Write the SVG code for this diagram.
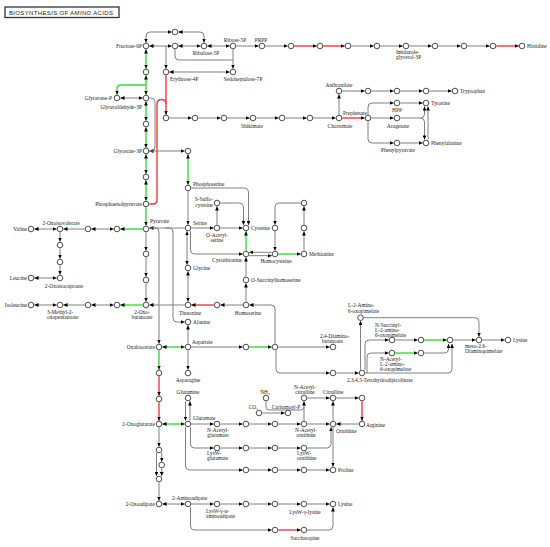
<svg xmlns="http://www.w3.org/2000/svg" width="550" height="547" viewBox="0 0 550 547">
<style>
.g{stroke:#808080;stroke-width:1;fill:none}
.gr{stroke:#33e033;stroke-width:1.4;fill:none}
.rd{stroke:#f03a3a;stroke-width:1.4;fill:none}
.e{marker-end:url(#ah)}
.s{marker-start:url(#ah)}
.b{marker-start:url(#ah);marker-end:url(#ah)}
circle{fill:#fff;stroke:#222;stroke-width:0.8}
text{font-family:"Liberation Serif","Times New Roman",serif;font-size:5.4px;fill:#222}
.m{text-anchor:middle}
.r{text-anchor:end}
</style>
<defs>
<marker id="ah" viewBox="0 0 10 9" refX="10" refY="4.5" markerWidth="4.2" markerHeight="3.8" orient="auto-start-reverse" markerUnits="userSpaceOnUse"><path d="M0,0L10,4.5L0,9z" fill="#000"/></marker>
</defs>
<rect width="550" height="547" fill="#fff"/>
<g id="title"><rect x="5" y="7" width="114" height="10.5" fill="#fff" stroke="#333" stroke-width="1.3"/><text x="9" y="14.8" style="font-family:'Liberation Sans',Arial,sans-serif;font-size:6px" textLength="104" lengthAdjust="spacing">BIOSYNTHESIS OF AMINO ACIDS</text></g>
<g id="connectors">
<path class="g b" d="M149.3,46H171.7"/>
<path class="g b" d="M178.3,46H200.7"/>
<path class="g b" d="M146,42.7V36Q146,32 150,32H171.7"/>
<path class="g b" d="M178.3,32H200Q204,32 204,36V42.7"/>
<path class="g b" d="M207.3,46H229.7"/>
<path class="g e" d="M236.3,46H258.7"/>
<path class="g e" d="M265.3,46H287.7"/>
<path class="rd e" d="M294.3,46H316.7"/>
<path class="rd e" d="M323.3,46H344.7"/>
<path class="g e" d="M351.3,46H373.7"/>
<path class="g e" d="M380.3,46H402.7"/>
<path class="g e" d="M409.3,46H431.7"/>
<path class="g e" d="M438.3,46H460.7"/>
<path class="g e" d="M467.3,46H489.7"/>
<path class="rd e" d="M496.3,46H518.7"/>
<path class="g e" d="M166,46V68.7"/>
<path class="g b" d="M169.3,72H229.7"/>
<path class="g e" d="M233,49.3V68.7"/>
<path class="g" d="M175,49.3V56Q175,60 179,60H233"/>
<path class="gr b" d="M146,49.3V68.7"/>
<path class="gr b" d="M146,75.3V94.7"/>
<path class="gr e" d="M146,85H121Q117,85 117,89V94.7"/>
<path class="g b" d="M120.3,98H142.7"/>
<path class="gr b" d="M146,101.3V120.7"/>
<path class="gr b" d="M146,127.3V147.7"/>
<path class="g e" d="M149.3,98H151Q155,98 155,102V147Q155,151 151,151H149.3"/>
<path class="g e" d="M149.3,151H184.7"/>
<path class="gr b" d="M188,154.3V184.7"/>
<path class="gr b" d="M146,154.3V173.7"/>
<path class="gr b" d="M146,180.3V200.7"/>
<path class="gr e" d="M146,207.3V225.7"/>
<path class="rd e" d="M166,75.3V114.7"/>
<path class="rd" d="M149.3,204H153Q157,204 157,200V104Q157,99.5 161.5,99.5Q166,99.5 166,104"/>
<path class="g e" d="M169.3,118H191.7"/>
<path class="g e" d="M198.3,118H220.7"/>
<path class="g e" d="M227.3,118H249.7"/>
<path class="g e" d="M256.3,118H278.7"/>
<path class="g e" d="M285.3,118H306.7"/>
<path class="g e" d="M313.3,118H335.7"/>
<path class="g e" d="M339,114.7V94.3"/>
<path class="g e" d="M342.3,91H364.7"/>
<path class="g e" d="M371.3,91H393.7"/>
<path class="g e" d="M400.3,91H422.7"/>
<path class="g e" d="M429.3,91H451.7"/>
<path class="rd e" d="M342.3,118H364.7"/>
<path class="g e" d="M371.3,118H393.7"/>
<path class="g e" d="M368,114.7V107Q368,103 372,103H393.7"/>
<path class="g e" d="M400.3,103H422.7"/>
<path class="g e" d="M368,121.3V139Q368,143 372,143H393.7"/>
<path class="g e" d="M400.3,143H422.7"/>
<path class="g e" d="M400.3,118H420.5Q424.5,118 424.5,114V106.4"/>
<path class="g e" d="M420.5,118Q424.5,118 424.5,122V139.6"/>
<path class="g e" d="M428,139.6V106.4"/>
<path class="g s" d="M149.3,228H184.7"/>
<path class="g e" d="M151,228H155Q159,228 159,232V343.7"/>
<path class="g e" d="M165,228H169Q173,228 173,232V318Q173,322 177,322H184.7"/>
<path class="gr e" d="M142.7,229H120.3"/>
<path class="g b" d="M91.3,229H113.7"/>
<path class="g e" d="M84.7,229H63.3"/>
<path class="g b" d="M56.7,229H34.3"/>
<path class="g e" d="M60,232.3V241.7"/>
<path class="g e" d="M60,248.3V258.7"/>
<path class="g e" d="M60,265.3V274.7"/>
<path class="g b" d="M56.7,278H34.3"/>
<path class="g b" d="M56.7,305H34.3"/>
<path class="g e" d="M84.7,305H63.3"/>
<path class="g b" d="M91.3,305H113.7"/>
<path class="gr e" d="M142.7,305H120.3"/>
<path class="g e" d="M146,232.3V250.7"/>
<path class="g e" d="M146,257.3V276.7"/>
<path class="g e" d="M146,283.3V301.7"/>
<path class="g e" d="M184.7,305H149.3"/>
<path class="g e" d="M188,191.3V224.7"/>
<path class="g e" d="M191.3,228H213.7"/>
<path class="g e" d="M220.3,228H242.7"/>
<path class="g e" d="M217,224.7V206.3"/>
<path class="g e" d="M220.3,203H239.5Q243.5,203 243.5,207V225"/>
<path class="g e" d="M191.3,188H244.5Q248.5,188 248.5,192V225"/>
<path class="gr e" d="M246,250.7V231.3"/>
<path class="g e" d="M190.5,231V250Q190.5,254 194.5,254H242.7"/>
<path class="g s" d="M249.2,252.3H271.8"/>
<path class="g e" d="M249.2,255.7H271.8"/>
<path class="gr e" d="M278.3,254H300.7"/>
<path class="g e" d="M304,250.7V231.3"/>
<path class="g e" d="M304,224.7V206.3"/>
<path class="g e" d="M300.7,203H279Q275,203 275,207V224.7"/>
<path class="g e" d="M275,231.3V250.7"/>
<path class="g e" d="M246,276.7V257.3"/>
<path class="g b" d="M187,231.2V264.8"/>
<path class="g b" d="M188,271.3V301.7"/>
<path class="g e" d="M242.7,305H220.3"/>
<path class="rd e" d="M213.7,305H191.3"/>
<path class="g e" d="M246,301.7V283.3"/>
<path class="g e" d="M275,343.7V309Q275,305 271,305H249.3"/>
<path class="gr b" d="M162.3,347H184.7"/>
<path class="g e" d="M188,343.7V325.3"/>
<path class="g e" d="M191.3,347H242.7"/>
<path class="gr e" d="M249.3,347H271.7"/>
<path class="g e" d="M188,350.3V369.7"/>
<path class="g e" d="M278.3,347H329.7"/>
<path class="g e" d="M276,350.3V369Q276,373 280,373H329.7"/>
<path class="g e" d="M336.3,373H358.7"/>
<path class="g e" d="M360.5,369.7V321"/>
<path class="g e" d="M365,370V344Q365,340 369,340H388.7"/>
<path class="g e" d="M365.3,373H448Q452,373 452,369V343.8"/>
<path class="g e" d="M367,373V357Q367,353 371,353H388.7"/>
<path class="g e" d="M395.3,340H417.7"/>
<path class="gr e" d="M424.3,340H446.7"/>
<path class="g e" d="M453.3,340H475.7"/>
<path class="g e" d="M482.3,340H504.7"/>
<path class="gr e" d="M395.3,353H417.7"/>
<path class="g e" d="M424.3,353H444.5Q448.5,353 448.5,349V343.8"/>
<path class="g e" d="M363.3,317.7H475Q479,317.7 479,321.7V336.7"/>
<path class="gr e" d="M159,350.3V369.7"/>
<path class="rd e" d="M159,376.3V395.7"/>
<path class="rd e" d="M159,402.3V420.7"/>
<path class="gr b" d="M162.3,424H184.7"/>
<path class="g e" d="M185.5,401.3V420.7"/>
<path class="g e" d="M190,420.7V401.3"/>
<path class="g e" d="M191.3,424H213.7"/>
<path class="g e" d="M220.3,424H242.7"/>
<path class="g e" d="M249.3,424H271.7"/>
<path class="g e" d="M278.3,424H300.7"/>
<path class="g e" d="M307.3,424H329.7"/>
<path class="g e" d="M358.7,424H336.3"/>
<path class="g e" d="M333,420.7V401.3"/>
<path class="g e" d="M304,420.7V401.3"/>
<path class="g e" d="M307.3,398H329.7"/>
<path class="g e" d="M336.3,398H358.7"/>
<path class="rd e" d="M362,401.3V420.7"/>
<path class="g" d="M266,401.3V407Q266,410 269,410H301Q304,410 304,407"/>
<path class="g e" d="M262.3,413H284.7"/>
<path class="g e" d="M190.5,427.3V444Q190.5,448 194.5,448H213.7"/>
<path class="g e" d="M220.3,448H242.7"/>
<path class="g e" d="M249.3,448H271.7"/>
<path class="g e" d="M278.3,448H300.7"/>
<path class="g e" d="M307.3,448H327Q331,448 331,444V427.2"/>
<path class="g e" d="M185.5,427.3V466Q185.5,470 189.5,470H242.7"/>
<path class="g e" d="M249.3,470H271.7"/>
<path class="g e" d="M278.3,470H300.7"/>
<path class="g e" d="M307.3,470H329.7"/>
<path class="g e" d="M333,427.3V466.7"/>
<path class="g e" d="M159,427.3V446.7"/>
<path class="g e" d="M161.7,453V461.7"/>
<path class="g e" d="M156.5,452.8V476"/>
<path class="g e" d="M161.7,468.3V476"/>
<path class="g e" d="M159,482.3V500.7"/>
<path class="g b" d="M162.3,504H184.7"/>
<path class="g e" d="M191.3,504H213.7"/>
<path class="g e" d="M220.3,504H242.7"/>
<path class="g e" d="M249.3,504H271.7"/>
<path class="g e" d="M278.3,504H300.7"/>
<path class="g e" d="M307.3,504H329.7"/>
<path class="g e" d="M190.5,507.3V526Q190.5,530 194.5,530H271.7"/>
<path class="rd e" d="M278.3,530H300.7"/>
<path class="g e" d="M307.3,530H329Q333,530 333,526V507.3"/>
</g>
<g id="nodes">
<g id="n-fructose6p"><circle cx="146" cy="46" r="2.8"/><text class="r" x="142" y="48">Fructose-6P</text></g>
<g id="n-c175-46"><circle cx="175" cy="46" r="2.8"/></g>
<g id="n-c175-32"><circle cx="175" cy="32" r="2.8"/></g>
<g id="n-ribulose5p"><circle cx="204" cy="46" r="2.8"/><text class="m" x="206" y="55">Ribulose-5P</text></g>
<g id="n-ribose5p"><circle cx="233" cy="46" r="2.8"/><text class="m" x="235" y="42">Ribose-5P</text></g>
<g id="n-prpp"><circle cx="262" cy="46" r="2.8"/><text class="m" x="261" y="42">PRPP</text></g>
<g id="n-c291"><circle cx="291" cy="46" r="2.8"/></g>
<g id="n-c320"><circle cx="320" cy="46" r="2.8"/></g>
<g id="n-c348"><circle cx="348" cy="46" r="2.8"/></g>
<g id="n-c377"><circle cx="377" cy="46" r="2.8"/></g>
<g id="n-imidazole"><circle cx="406" cy="46" r="2.8"/><text x="396" y="54">Imidazole-<tspan x="396" y="59">glycerol-3P</tspan></text></g>
<g id="n-c435"><circle cx="435" cy="46" r="2.8"/></g>
<g id="n-c464"><circle cx="464" cy="46" r="2.8"/></g>
<g id="n-c493"><circle cx="493" cy="46" r="2.8"/></g>
<g id="n-histidine"><circle cx="522" cy="46" r="2.8"/><text x="527" y="48">Histidine</text></g>
<g id="n-sedoheptulose7p"><circle cx="233" cy="72" r="2.8"/><text class="m" x="243" y="81">Sedoheptulose-7P</text></g>
<g id="n-erythrose4p"><circle cx="166" cy="72" r="2.8"/><text x="170" y="81">Erythrose-4P</text></g>
<g id="n-c146-72"><circle cx="146" cy="72" r="2.8"/></g>
<g id="n-glyceroneP"><circle cx="117" cy="98" r="2.8"/><text class="r" x="112" y="100">Glycerone-P</text></g>
<g id="n-glyceraldehyde3p"><circle cx="146" cy="98" r="2.8"/><text class="r" x="142" y="109">Glyceraldehyde-3P</text></g>
<g id="n-c166-118"><circle cx="166" cy="118" r="2.8"/></g>
<g id="n-c195-118"><circle cx="195" cy="118" r="2.8"/></g>
<g id="n-c224-118"><circle cx="224" cy="118" r="2.8"/></g>
<g id="n-shikimate"><circle cx="253" cy="118" r="2.8"/><text class="m" x="252" y="128">Shikimate</text></g>
<g id="n-c282-118"><circle cx="282" cy="118" r="2.8"/></g>
<g id="n-c310-118"><circle cx="310" cy="118" r="2.8"/></g>
<g id="n-chorismate"><circle cx="339" cy="118" r="2.8"/><text class="m" x="340" y="128">Chorismate</text></g>
<g id="n-anthranilate"><circle cx="339" cy="91" r="2.8"/><text class="m" x="339" y="87">Anthranilate</text></g>
<g id="n-c368-91"><circle cx="368" cy="91" r="2.8"/></g>
<g id="n-c397-91"><circle cx="397" cy="91" r="2.8"/></g>
<g id="n-c426-91"><circle cx="426" cy="91" r="2.8"/></g>
<g id="n-tryptophan"><circle cx="455" cy="91" r="2.8"/><text x="460" y="93">Tryptophan</text></g>
<g id="n-prephenate"><circle cx="368" cy="118" r="2.8"/><text class="m" x="355" y="115">Prephenate</text></g>
<g id="n-hpp"><circle cx="397" cy="103" r="2.8"/><text class="m" x="397" y="112">HPP</text></g>
<g id="n-tyrosine"><circle cx="426" cy="103" r="2.8"/><text x="431" y="105">Tyrosine</text></g>
<g id="n-arogenate"><circle cx="397" cy="118" r="2.8"/><text class="m" x="398" y="128">Arogenate</text></g>
<g id="n-phenylpyruvate"><circle cx="397" cy="143" r="2.8"/><text class="m" x="398" y="152">Phenylpyruvate</text></g>
<g id="n-phenylalanine"><circle cx="426" cy="143" r="2.8"/><text x="431" y="145">Phenylalanine</text></g>
<g id="n-c146-124"><circle cx="146" cy="124" r="2.8"/></g>
<g id="n-glycerate3p"><circle cx="146" cy="151" r="2.8"/><text class="r" x="142" y="153">Glycerate-3P</text></g>
<g id="n-c188-151"><circle cx="188" cy="151" r="2.8"/></g>
<g id="n-c146-177"><circle cx="146" cy="177" r="2.8"/></g>
<g id="n-pep"><circle cx="146" cy="204" r="2.8"/><text class="r" x="142" y="206">Phosphoenolpyruvate</text></g>
<g id="n-pyruvate"><circle cx="146" cy="229" r="2.8"/><text x="150" y="223">Pyruvate</text></g>
<g id="n-c117-229"><circle cx="117" cy="229" r="2.8"/></g>
<g id="n-c88-229"><circle cx="88" cy="229" r="2.8"/></g>
<g id="n-oxoisovalerate"><circle cx="60" cy="229" r="2.8"/><text class="m" x="61" y="225">2-Oxoisovalerate</text></g>
<g id="n-valine"><circle cx="31" cy="229" r="2.8"/><text class="r" x="27" y="231">Valine</text></g>
<g id="n-c60-245"><circle cx="60" cy="245" r="2.8"/></g>
<g id="n-c60-262"><circle cx="60" cy="262" r="2.8"/></g>
<g id="n-oxoisocaproate"><circle cx="60" cy="278" r="2.8"/><text class="m" x="64" y="288">2-Oxoisocaproate</text></g>
<g id="n-leucine"><circle cx="31" cy="278" r="2.8"/><text class="r" x="27" y="280">Leucine</text></g>
<g id="n-isoleucine"><circle cx="31" cy="305" r="2.8"/><text class="r" x="27" y="307">Isoleucine</text></g>
<g id="n-methyloxopentanoate"><circle cx="60" cy="305" r="2.8"/><text x="47" y="314">3-Methyl-2-<tspan x="47" y="319">oxopentanoate</tspan></text></g>
<g id="n-c88-305"><circle cx="88" cy="305" r="2.8"/></g>
<g id="n-c117-305"><circle cx="117" cy="305" r="2.8"/></g>
<g id="n-oxobutanoate"><circle cx="146" cy="305" r="2.8"/><text class="m" x="142" y="314">2-Oxo-<tspan x="142" y="319">butanoate</tspan></text></g>
<g id="n-c146-254"><circle cx="146" cy="254" r="2.8"/></g>
<g id="n-c146-280"><circle cx="146" cy="280" r="2.8"/></g>
<g id="n-oxaloacetate"><circle cx="159" cy="347" r="2.8"/><text class="r" x="155" y="349">Oxaloacetate</text></g>
<g id="n-phosphoserine"><circle cx="188" cy="188" r="2.8"/><text x="193" y="186">Phosphoserine</text></g>
<g id="n-serine"><circle cx="188" cy="228" r="2.8"/><text x="193" y="225">Serine</text></g>
<g id="n-oacetylserine"><circle cx="217" cy="228" r="2.8"/><text class="m" x="217" y="237">O-Acetyl-<tspan x="217" y="242">serine</tspan></text></g>
<g id="n-ssulfocysteine"><circle cx="217" cy="203" r="2.8"/><text class="r" x="213" y="201">S-Sulfo-<tspan x="213" y="207">cysteine</tspan></text></g>
<g id="n-cysteine"><circle cx="246" cy="228" r="2.8"/><text x="251" y="230">Cysteine</text></g>
<g id="n-cystathionine"><circle cx="246" cy="254" r="2.8"/><text class="r" x="242" y="262">Cystathionine</text></g>
<g id="n-homocysteine"><circle cx="275" cy="254" r="2.8"/><text class="m" x="276" y="263">Homocysteine</text></g>
<g id="n-methionine"><circle cx="304" cy="254" r="2.8"/><text x="309" y="256">Methionine</text></g>
<g id="n-c275-228"><circle cx="275" cy="228" r="2.8"/></g>
<g id="n-c304-203"><circle cx="304" cy="203" r="2.8"/></g>
<g id="n-c304-228"><circle cx="304" cy="228" r="2.8"/></g>
<g id="n-glycine"><circle cx="188" cy="268" r="2.8"/><text x="193" y="270">Glycine</text></g>
<g id="n-osuccinylhomoserine"><circle cx="246" cy="280" r="2.8"/><text x="251" y="282">O-Succinylhomoserine</text></g>
<g id="n-threonine"><circle cx="188" cy="305" r="2.8"/><text class="m" x="190" y="315">Threonine</text></g>
<g id="n-c217-305"><circle cx="217" cy="305" r="2.8"/></g>
<g id="n-homoserine"><circle cx="246" cy="305" r="2.8"/><text class="m" x="248" y="315">Homoserine</text></g>
<g id="n-alanine"><circle cx="188" cy="322" r="2.8"/><text x="193" y="324">Alanine</text></g>
<g id="n-aspartate"><circle cx="188" cy="347" r="2.8"/><text x="192" y="344">Aspartate</text></g>
<g id="n-c246-347"><circle cx="246" cy="347" r="2.8"/></g>
<g id="n-c275-347"><circle cx="275" cy="347" r="2.8"/></g>
<g id="n-asparagine"><circle cx="188" cy="373" r="2.8"/><text class="m" x="188" y="382">Asparagine</text></g>
<g id="n-diaminobutanoate"><circle cx="333" cy="347" r="2.8"/><text x="320" y="338">2,4-Diamino-<tspan x="322" y="343">butanoate</tspan></text></g>
<g id="n-c333-373"><circle cx="333" cy="373" r="2.8"/></g>
<g id="n-thdp"><circle cx="362" cy="373" r="2.8"/><text x="347" y="382">2,3,4,5-Tetrahydrodipicolinate</text></g>
<g id="n-aminooxopimelate"><circle cx="360.5" cy="317.7" r="2.8"/><text x="348" y="307">L-2-Amino-<tspan x="348" y="313">6-oxopimelate</tspan></text></g>
<g id="n-nsuccinyl"><circle cx="392" cy="340" r="2.8"/><text x="375" y="327">N-Succinyl-<tspan x="375" y="332">L-2-amino-</tspan><tspan x="375" y="337">6-oxopimelate</tspan></text></g>
<g id="n-c421-340"><circle cx="421" cy="340" r="2.8"/></g>
<g id="n-c450-340"><circle cx="450" cy="340" r="2.8"/></g>
<g id="n-mesodap"><circle cx="479" cy="340" r="2.8"/><text x="465" y="348">meso-2,6-<tspan x="465" y="353">Diaminopimelate</tspan></text></g>
<g id="n-lysine1"><circle cx="508" cy="340" r="2.8"/><text x="513" y="342">Lysine</text></g>
<g id="n-nacetyl"><circle cx="392" cy="353" r="2.8"/><text x="380" y="361">N-Acetyl-<tspan x="380" y="366">L-2-amino-</tspan><tspan x="380" y="371">6-oxopimelate</tspan></text></g>
<g id="n-c421-353"><circle cx="421" cy="353" r="2.8"/></g>
<g id="n-c159-373"><circle cx="159" cy="373" r="2.8"/></g>
<g id="n-c159-399"><circle cx="159" cy="399" r="2.8"/></g>
<g id="n-oxoglutarate"><circle cx="159" cy="424" r="2.8"/><text class="r" x="155" y="426">2-Oxoglutarate</text></g>
<g id="n-glutamine"><circle cx="188" cy="398" r="2.8"/><text class="m" x="188" y="394">Glutamine</text></g>
<g id="n-glutamate"><circle cx="188" cy="424" r="2.8"/><text x="193" y="420">Glutamate</text></g>
<g id="n-nacetylglutamate"><circle cx="217" cy="424" r="2.8"/><text class="m" x="218" y="432">N-Acetyl-<tspan x="218" y="437">glutamate</tspan></text></g>
<g id="n-c246-424"><circle cx="246" cy="424" r="2.8"/></g>
<g id="n-c275-424"><circle cx="275" cy="424" r="2.8"/></g>
<g id="n-nacetylornithine"><circle cx="304" cy="424" r="2.8"/><text class="m" x="306" y="432">N-Acetyl-<tspan x="306" y="437">ornithine</tspan></text></g>
<g id="n-ornithine"><circle cx="333" cy="424" r="2.8"/><text x="336" y="433">Ornithine</text></g>
<g id="n-arginine"><circle cx="362" cy="424" r="2.8"/><text x="366" y="427">Arginine</text></g>
<g id="n-nh3"><circle cx="266" cy="398" r="2.8"/><text class="m" x="265" y="394">NH₃</text></g>
<g id="n-co2"><circle cx="259" cy="413" r="2.8"/><text class="r" x="258" y="409">CO₂</text></g>
<g id="n-carbamoylp"><circle cx="288" cy="413" r="2.8"/><text class="m" x="286" y="408.5">Carbamoyl-P</text></g>
<g id="n-nacetylcitrulline"><circle cx="304" cy="398" r="2.8"/><text class="m" x="305" y="389">N-Acetyl-<tspan x="305" y="394">citrulline</tspan></text></g>
<g id="n-citrulline"><circle cx="333" cy="398" r="2.8"/><text class="m" x="333" y="394">Citrulline</text></g>
<g id="n-c362-398"><circle cx="362" cy="398" r="2.8"/></g>
<g id="n-lyswglutamate"><circle cx="217" cy="448" r="2.8"/><text x="207" y="455">LysW-<tspan x="207" y="460">glutamate</tspan></text></g>
<g id="n-c246-448"><circle cx="246" cy="448" r="2.8"/></g>
<g id="n-c275-448"><circle cx="275" cy="448" r="2.8"/></g>
<g id="n-lyswornithine"><circle cx="304" cy="448" r="2.8"/><text x="297" y="455">LysW-<tspan x="297" y="460">ornithine</tspan></text></g>
<g id="n-c246-470"><circle cx="246" cy="470" r="2.8"/></g>
<g id="n-c275-470"><circle cx="275" cy="470" r="2.8"/></g>
<g id="n-c304-470"><circle cx="304" cy="470" r="2.8"/></g>
<g id="n-proline"><circle cx="333" cy="470" r="2.8"/><text x="338" y="472">Proline</text></g>
<g id="n-c159-450"><circle cx="159" cy="450" r="2.8"/></g>
<g id="n-c162-465"><circle cx="161.7" cy="465" r="2.8"/></g>
<g id="n-c159-479"><circle cx="159" cy="479" r="2.8"/></g>
<g id="n-oxoadipate"><circle cx="159" cy="504" r="2.8"/><text class="r" x="155" y="506">2-Oxoadipate</text></g>
<g id="n-aminoadipate"><circle cx="188" cy="504" r="2.8"/><text x="172" y="500">2-Aminoadipate</text></g>
<g id="n-lyswaminoadipate"><circle cx="217" cy="504" r="2.8"/><text x="206" y="513">LysW-γ-α-<tspan x="206" y="518">aminoadipate</tspan></text></g>
<g id="n-c246-504"><circle cx="246" cy="504" r="2.8"/></g>
<g id="n-c275-504"><circle cx="275" cy="504" r="2.8"/></g>
<g id="n-lyswlysine"><circle cx="304" cy="504" r="2.8"/><text class="m" x="305" y="514">LysW-γ-lysine</text></g>
<g id="n-lysine2"><circle cx="333" cy="504" r="2.8"/><text x="338" y="506">Lysine</text></g>
<g id="n-c275-530"><circle cx="275" cy="530" r="2.8"/></g>
<g id="n-saccharopine"><circle cx="304" cy="530" r="2.8"/><text class="m" x="305" y="540">Saccharopine</text></g>
</g>
</svg>
